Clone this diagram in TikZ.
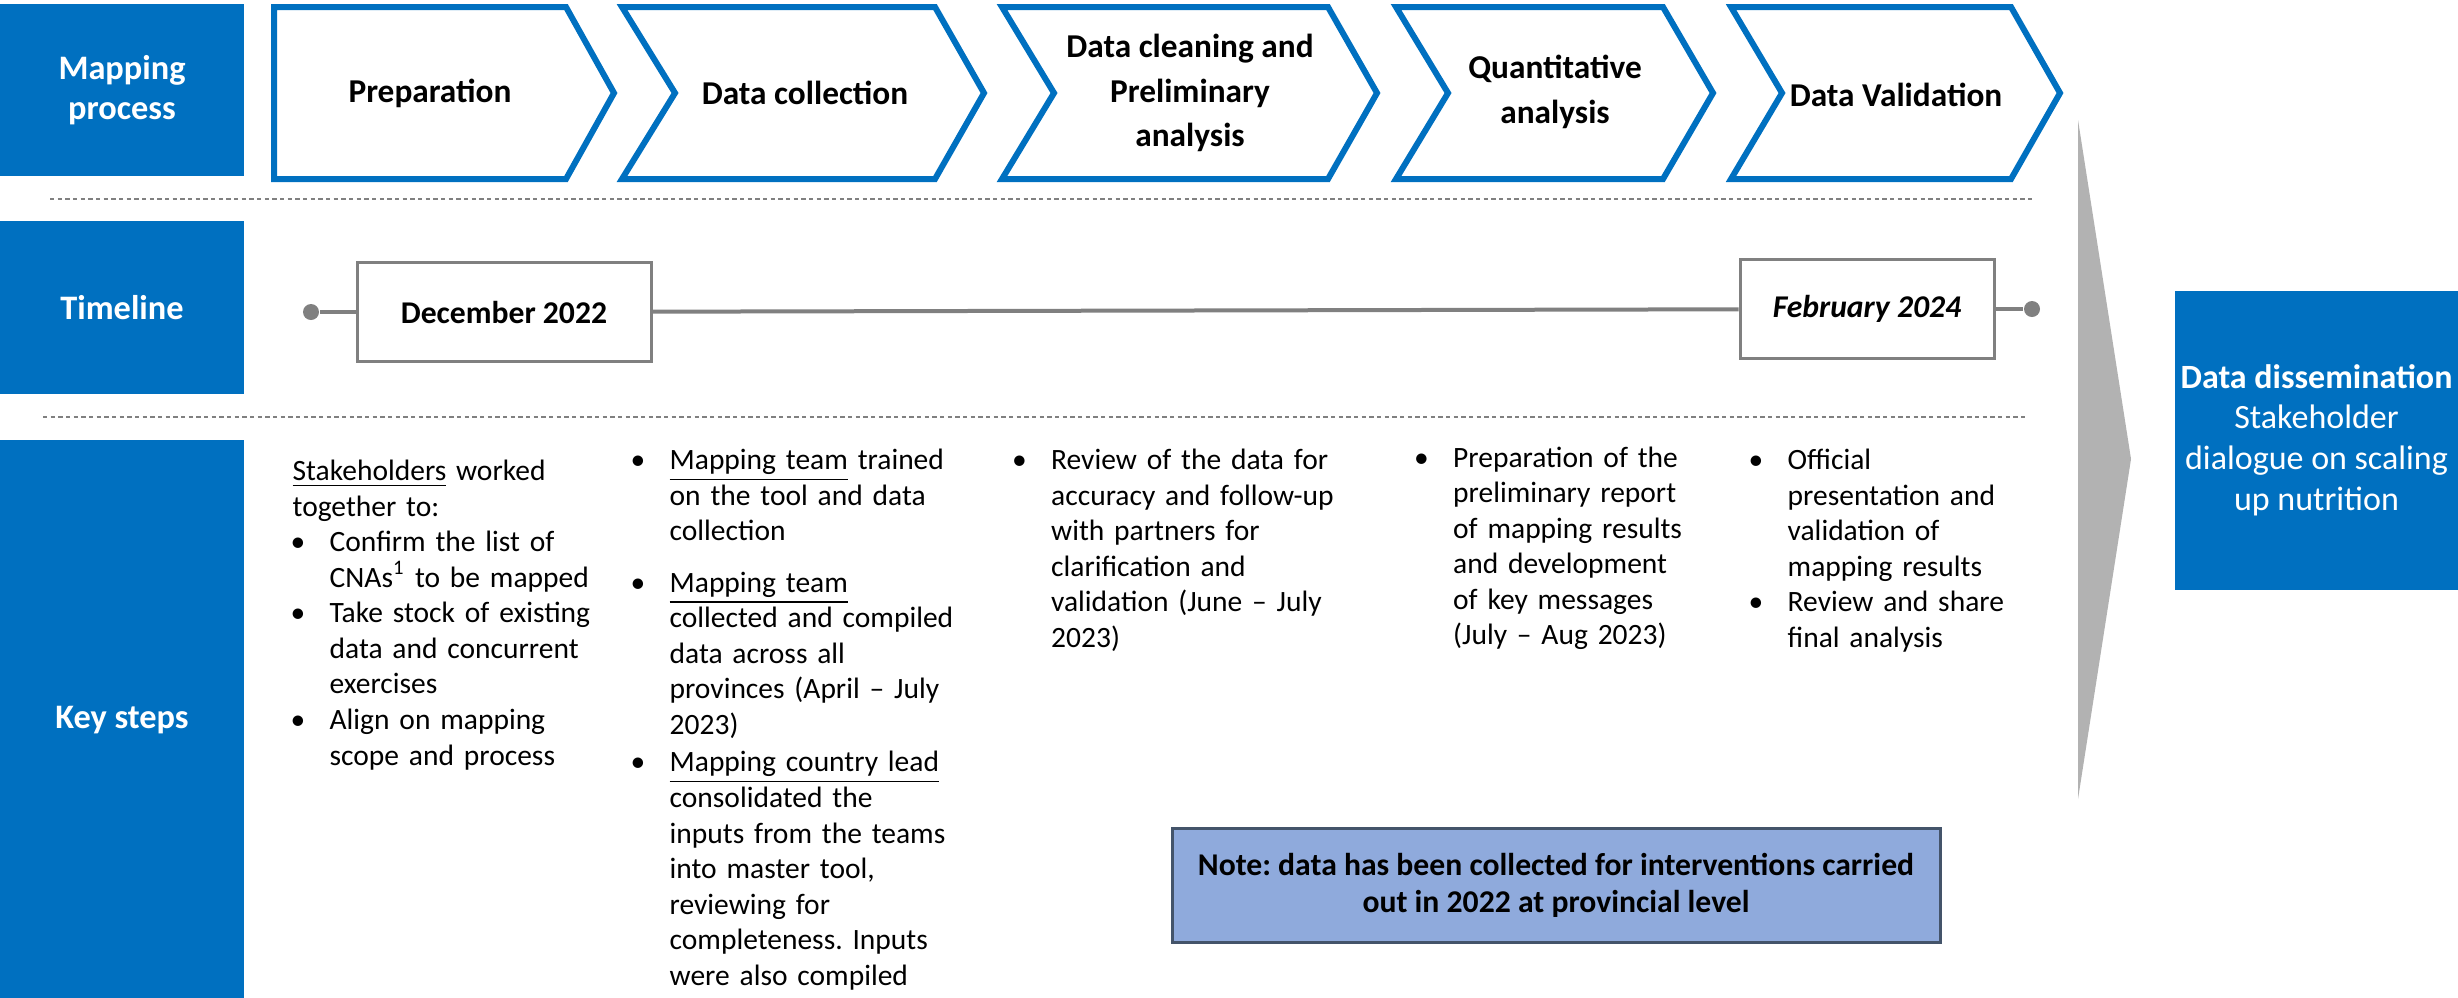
\documentclass[tikz,border=0pt]{standalone}
\usepackage{fontspec}
\setmainfont{Carlito}
\frenchspacing
\definecolor{ublue}{HTML}{0070C0}
\definecolor{lgray}{HTML}{808080}
\definecolor{agray}{HTML}{B2B2B2}
\definecolor{notefill}{HTML}{8FAADC}
\definecolor{noteborder}{HTML}{44546A}
\newcommand\bodyfont{\fontsize{8.85pt}{10.66pt}\selectfont\frenchspacing}
\newcommand\bl{\leavevmode\llap{\textbullet\hspace{7.3pt}}}
\begin{document}
\begin{tikzpicture}[x=0.3pt,y=-0.3pt,
 labelbox/.style={fill=ublue, text=white, font=\fontsize{10.3pt}{12.2pt}\selectfont\bfseries, align=center, inner sep=0pt},
 chev/.style={draw=ublue, line width=1.8pt, fill=white, miter limit=10},
 chevtext/.style={font=\fontsize{10pt}{13.3pt}\selectfont\bfseries, align=center, inner sep=0pt},
 datebox/.style={draw=lgray, line width=0.9pt, fill=white, inner sep=0pt, minimum height=29.7pt, font=\fontsize{9.5pt}{11pt}\selectfont\bfseries},
 tline/.style={draw=lgray, line width=1.2pt},
 tdot/.style={circle, fill=lgray, inner sep=0pt, minimum size=4.8pt},
 dashline/.style={draw=lgray, line width=0.6pt, dash pattern=on 1.3pt off 1pt},
 coltext/.style={anchor=base west, inner sep=0pt, text width=#1, align=left, font=\bodyfont},
]
\useasboundingbox (0,0) rectangle (2458,997);
\clip (0,0) rectangle (2458,997);

% row labels
\node[labelbox, minimum width=73.2pt, minimum height=51.6pt] (lmap) at (122,90) {Mapping\\process};
\node[labelbox, minimum width=73.2pt, minimum height=51.9pt] (ltime) at (122,307.5) {Timeline};
\node[labelbox, minimum width=73.2pt, minimum height=168pt] (lkey) at (122,720) {Key steps};

% dashed separators
\draw[dashline] (50,199) -- (2033,199);
\draw[dashline] (43,417) -- (2026,417);

% chevrons
\draw[chev] (274,7) -- (566,7) -- (614,93) -- (566,179) -- (274,179) -- cycle;
\draw[chev] (622,7) -- (935,7) -- (984,93) -- (935,179) -- (622,179) -- (675,93) -- cycle;
\draw[chev] (1002,7) -- (1328,7) -- (1377,93) -- (1328,179) -- (1002,179) -- (1054,93) -- cycle;
\draw[chev] (1396,7) -- (1663,7) -- (1713,93) -- (1663,179) -- (1396,179) -- (1448,93) -- cycle;
\draw[chev] (1731,7) -- (2011,7) -- (2060,93) -- (2011,179) -- (1731,179) -- (1782,93) -- cycle;
\node[chevtext] (c1) at (430,93) {Preparation};
\node[chevtext] (c2) at (805,93) {Data collection};
\node[chevtext] (c3) at (1190,93) {Data cleaning and\\Preliminary\\analysis};
\node[chevtext] (c4) at (1555,92) {Quantitative\\analysis};
\node[chevtext] (c5) at (1896,95) {Data Validation};

% timeline
\node[tdot] (d1) at (311,312) {};
\node[datebox, minimum width=88.2pt] (dec) at (504,312) {December 2022};
\node[datebox, minimum width=76.2pt] (feb) at (1867,309) {\itshape February 2024};
\node[tdot] (d2) at (2032,309) {};
\draw[tline] (d1) -- (dec);
\draw[tline] (dec) -- (feb);
\draw[tline] (feb) -- (d2);

% big gray arrow
\fill[agray] (2078,120) -- (2131,459) -- (2078,799) -- cycle;

% dissemination
\node[labelbox, font=\fontsize{10.2pt}{12.2pt}\selectfont, minimum width=84.9pt, minimum height=89.7pt] (diss) at (2316.5,440) {\textbf{Data dissemination}\\Stakeholder\\dialogue on scaling\\up nutrition};

% note
\node[draw=noteborder, line width=0.9pt, fill=notefill, minimum width=230.4pt, minimum height=34.2pt, align=center, inner sep=0pt, font=\fontsize{9.5pt}{11.1pt}\selectfont\bfseries] (note) at (1556,885) {Note: data has been collected for interventions carried\\out in 2022 at provincial level};

% key steps
\node[coltext=95pt] (k1a) at (292,480.7) {\underline{Stakeholders} worked\\together to:};
\node[coltext=85pt] (k1b) at (329,551.8) {\bl Confirm the list of\\CNAs\textsuperscript{1} to be mapped\\\bl Take stock of existing\\data and concurrent\\exercises\\\bl Align on mapping\\scope and process};
\node[coltext=95pt] (k2) at (669,469.7) {\bl\underline{Mapping team} trained\\on the tool and data\\collection\\[4.8pt]\bl\underline{Mapping team}\\collected and compiled\\data across all\\provinces (April – July\\2023)\\[0.6pt]\bl\underline{Mapping country lead}\\consolidated the\\inputs from the teams\\into master tool,\\reviewing for\\completeness. Inputs\\were also compiled};
\node[coltext=95pt] (k3) at (1050.5,469.7) {\bl Review of the data for\\accuracy and follow-up\\with partners for\\clarification and\\validation (June – July\\2023)};
\node[coltext=90pt] (k4) at (1452.5,467) {\bl Preparation of the\\preliminary report\\of mapping results\\and development\\of key messages\\(July – Aug 2023)};
\node[coltext=90pt] (k5) at (1787,469.7) {\bl Official\\presentation and\\validation of\\mapping results\\\bl Review and share\\final analysis};
\end{tikzpicture}
\end{document}
